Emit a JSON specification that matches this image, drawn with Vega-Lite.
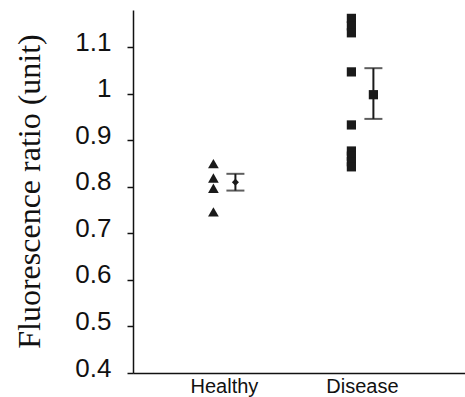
{
  "$schema": "https://vega.github.io/schema/vega-lite/v6.json",
  "width": 332,
  "height": 363,
  "autosize": {"type": "none"},
  "padding": {"left": 133, "top": 10, "right": 0, "bottom": 24},
  "background": "white",
  "config": {
    "view": {"stroke": null},
    "axis": {"grid": false, "domainColor": "#111", "tickColor": "#111", "labelColor": "#111", "titleColor": "#111", "domainWidth": 1.5}
  },
  "data": {
    "values": [
      {"group": "Healthy", "kind": "sample", "value": 0.850},
      {"group": "Healthy", "kind": "sample", "value": 0.819},
      {"group": "Healthy", "kind": "sample", "value": 0.797},
      {"group": "Healthy", "kind": "sample", "value": 0.746},
      {"group": "Disease", "kind": "sample", "value": 1.162},
      {"group": "Disease", "kind": "sample", "value": 1.146},
      {"group": "Disease", "kind": "sample", "value": 1.131},
      {"group": "Disease", "kind": "sample", "value": 1.047},
      {"group": "Disease", "kind": "sample", "value": 0.933},
      {"group": "Disease", "kind": "sample", "value": 0.877},
      {"group": "Disease", "kind": "sample", "value": 0.866},
      {"group": "Disease", "kind": "sample", "value": 0.854},
      {"group": "Disease", "kind": "sample", "value": 0.843},
      {"group": "Healthy", "kind": "mean", "value": 0.810, "lo": 0.792, "hi": 0.828},
      {"group": "Disease", "kind": "mean", "value": 0.998, "lo": 0.946, "hi": 1.055}
    ]
  },
  "encoding": {
    "x": {
      "field": "group", "type": "nominal", "sort": ["Healthy", "Disease"],
      "scale": {"paddingInner": 0, "paddingOuter": 0.203, "align": 0.4},
      "axis": {"title": null, "labelAngle": 0, "ticks": false, "labelFontSize": 20, "labelFont": "Liberation Sans", "labelPadding": 3}
    },
    "xOffset": {"field": "kind", "type": "nominal", "scale": {"type": "point", "domain": ["sample", "mean"], "range": [58, 80], "padding": 0}}
  },
  "layer": [
    {
      "transform": [{"filter": "datum.kind === 'sample'"}],
      "mark": {"type": "point", "filled": true, "opacity": 1, "color": "#1a1a1a"},
      "encoding": {
        "y": {
          "field": "value", "type": "quantitative",
          "scale": {"domain": [0.4, 1.18], "nice": false, "zero": false},
          "axis": {
            "values": [0.4, 0.5, 0.6, 0.7, 0.8, 0.9, 1, 1.1], "format": "~g",
            "labelFontSize": 26, "labelFont": "Liberation Sans", "labelPadding": 16, "labelOffset": -5,
            "tickSize": 6, "tickWidth": 1.5,
            "title": "Fluorescence ratio (unit)", "titleFont": "Liberation Serif", "titleFontSize": 32, "titleFontWeight": "normal",
            "titleX": -104, "titleY": 181, "titleBaseline": "middle", "titleAlign": "center", "titleAngle": 270
          }
        },
        "shape": {"field": "group", "type": "nominal", "scale": {"domain": ["Healthy", "Disease"], "range": ["triangle-up", "square"]}, "legend": null},
        "size": {"field": "group", "type": "nominal", "scale": {"domain": ["Healthy", "Disease"], "range": [115, 85]}, "legend": null}
      }
    },
    {
      "transform": [{"filter": "datum.kind === 'mean'"}],
      "mark": {"type": "rule", "color": "#1a1a1a", "strokeWidth": 2},
      "encoding": {
        "y": {"field": "lo", "type": "quantitative"},
        "y2": {"field": "hi"}
      }
    },
    {
      "transform": [{"filter": "datum.kind === 'mean'"}],
      "mark": {"type": "tick", "color": "#1a1a1a", "size": 18, "thickness": 2},
      "encoding": {"y": {"field": "lo", "type": "quantitative"}}
    },
    {
      "transform": [{"filter": "datum.kind === 'mean'"}],
      "mark": {"type": "tick", "color": "#1a1a1a", "size": 18, "thickness": 2},
      "encoding": {"y": {"field": "hi", "type": "quantitative"}}
    },
    {
      "transform": [{"filter": "datum.kind === 'mean'"}],
      "mark": {"type": "point", "filled": true, "opacity": 1, "color": "#1a1a1a"},
      "encoding": {
        "y": {"field": "value", "type": "quantitative"},
        "shape": {"field": "group", "type": "nominal", "scale": {"domain": ["Healthy", "Disease"], "range": ["diamond", "square"]}, "legend": null},
        "size": {"field": "group", "type": "nominal", "scale": {"domain": ["Healthy", "Disease"], "range": [50, 85]}, "legend": null}
      }
    }
  ],
  "resolve": {"scale": {"shape": "independent", "size": "independent"}}
}
